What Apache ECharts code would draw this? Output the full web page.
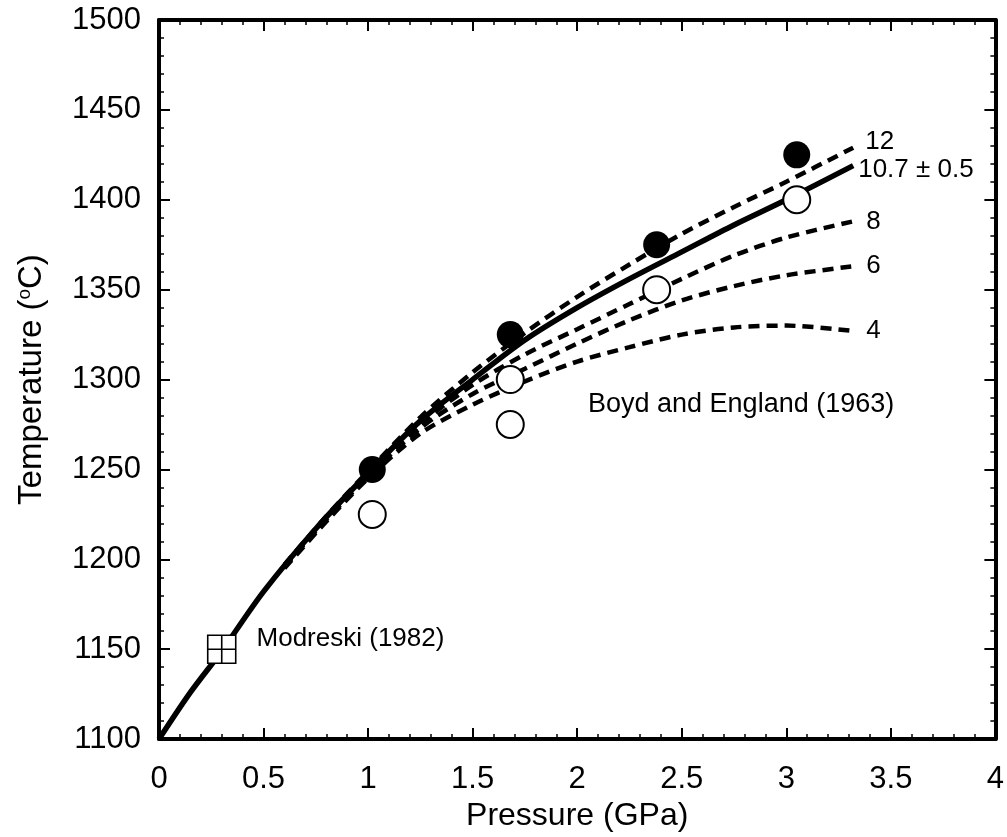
<!DOCTYPE html>
<html>
<head>
<meta charset="utf-8">
<script src="https://cdn.jsdelivr.net/npm/echarts@6/dist/echarts.min.js"></script>
<style>
html,body{margin:0;padding:0;background:#fff;}
#chart{width:1007px;height:837px;}
</style>
</head>
<body>
<div id="chart"></div>
<script>
// ---- data ----
const xTicks = [0, 0.5, 1, 1.5, 2, 2.5, 3, 3.5, 4];
const yTicks = [1100, 1150, 1200, 1250, 1300, 1350, 1400, 1450, 1500];

// solid fitted curve (10.7 ± 0.5)
const solidP = [0, 0.15, 0.3, 0.5, 0.75, 1.0, 1.25, 1.5, 1.75, 2.0, 2.25, 2.5, 2.75, 3.0, 3.32];
const solidT = [1100, 1126, 1149, 1182, 1217, 1248, 1277, 1300, 1322, 1340, 1356, 1371, 1386, 1400, 1419];

// dashed curves share one pressure grid
const dashP = [0.6, 0.8, 1.0, 1.25, 1.5, 1.75, 2.0, 2.25, 2.5, 2.75, 3.0, 3.32];
const dash12 = [1197, 1224, 1249, 1279, 1304, 1326, 1346, 1364, 1381, 1396, 1410, 1429];
const dash8  = [1196, 1223, 1247, 1275, 1297, 1314, 1328, 1342, 1356, 1369, 1379, 1388];
const dash6  = [1196, 1222, 1246, 1273, 1292, 1306, 1320, 1333, 1344, 1352, 1358, 1363];
const dash4  = [1195, 1221, 1245, 1270, 1286, 1299, 1310, 1318, 1325, 1329, 1330, 1327];

// Boyd and England (1963) experiments
const filledP = [1.02, 1.68, 2.38, 3.05];
const filledT = [1250, 1325, 1375, 1425];
const openP = [1.02, 1.68, 1.68, 2.38, 3.05];
const openT = [1225, 1275, 1300, 1350, 1400];

// Modreski (1982)
const modP = [0.3];
const modT = [1150];

const curveLabels = ['12', '10.7 ± 0.5', '8', '6', '4'];
const annotTexts = ['Boyd and England (1963)', 'Modreski (1982)'];
const axisTitles = ['Pressure (GPa)', 'Temperature'];

// ---- build ----
const zip = (a, b) => a.map((v, i) => [v, b[i]]);
const FONT = 'Liberation Sans, Arial, Helvetica, sans-serif';

function dashed(vals, label, distance, offset) {
  return {
    type: 'line', data: zip(dashP, vals), smooth: 0.3, showSymbol: false, symbol: 'none',
    lineStyle: { color: '#000', width: 4.5, type: [11, 7] }, z: 3,
    endLabel: { show: true, formatter: label, color: '#000', fontFamily: FONT, fontSize: 26,
                distance: distance, offset: offset || [0, 0] }
  };
}

const axisCommon = {
  axisLine: { show: true, onZero: false, lineStyle: { color: '#000', width: 4 } },
  axisTick: { show: true, inside: true, length: 11, lineStyle: { color: '#000', width: 2 } },
  minorTick: { show: true, splitNumber: 5, length: 5, lineStyle: { color: '#000', width: 1.5 } },
  splitLine: { show: false },
  minorSplitLine: { show: false }
};

const option = {
  animation: false,
  backgroundColor: '#fff',
  grid: { left: 159, right: 7, top: 20, bottom: 97, containLabel: false },
  xAxis: [
    Object.assign({}, axisCommon, {
      type: 'value', min: xTicks[0], max: xTicks[xTicks.length - 1], interval: 0.5, position: 'bottom',
      name: axisTitles[0], nameLocation: 'middle', nameGap: 60,
      nameTextStyle: { color: '#000', fontFamily: FONT, fontSize: 32 },
      axisLabel: { color: '#000', fontFamily: FONT, fontSize: 31, margin: 25,
                   formatter: v => String(v) }
    }),
    Object.assign({}, axisCommon, {
      type: 'value', min: xTicks[0], max: xTicks[xTicks.length - 1], interval: 0.5, position: 'top',
      axisLabel: { show: false }
    })
  ],
  yAxis: [
    Object.assign({}, axisCommon, {
      type: 'value', min: yTicks[0], max: yTicks[yTicks.length - 1], interval: 50, position: 'left',
      name: '{t|' + axisTitles[1] + ' (}{s|o}{t|C)}', nameLocation: 'middle', nameGap: 110,
      nameTextStyle: { color: '#000', fontFamily: FONT, fontSize: 33,
        rich: { t: { fontFamily: FONT, fontSize: 33, color: '#000' },
                s: { fontFamily: FONT, fontSize: 19, color: '#000', padding: [0, 0, 15, 0] } } },
      axisLabel: { color: '#000', fontFamily: FONT, fontSize: 31, margin: 18,
                   formatter: v => String(v) }
    }),
    Object.assign({}, axisCommon, {
      type: 'value', min: yTicks[0], max: yTicks[yTicks.length - 1], interval: 50, position: 'right',
      axisLabel: { show: false }
    })
  ],
  series: [
    {
      type: 'line', data: zip(solidP, solidT), smooth: 0.3, showSymbol: false, symbol: 'none',
      lineStyle: { color: '#000', width: 5.5 }, z: 4,
      endLabel: { show: true, formatter: curveLabels[1], color: '#000', fontFamily: FONT, fontSize: 26,
                  distance: 5, offset: [0, 4] }
    },
    dashed(dash12, curveLabels[0], 12, [0, -6]),
    dashed(dash8, curveLabels[2], 13),
    dashed(dash6, curveLabels[3], 13),
    dashed(dash4, curveLabels[4], 13),
    {
      type: 'scatter', data: zip(openP, openT), symbol: 'circle', symbolSize: 27, z: 6,
      itemStyle: { color: '#fff', borderColor: '#000', borderWidth: 2, opacity: 1 }
    },
    {
      type: 'scatter', data: zip(filledP, filledT), symbol: 'circle', symbolSize: 27, z: 6,
      itemStyle: { color: '#000', borderColor: '#000', borderWidth: 0, opacity: 1 }
    },
    {
      type: 'scatter', data: zip(modP, modT), z: 7,
      symbol: 'path://M0,0L2,0L2,2L0,2Z M1,0L1,2 M0,1L2,1', symbolSize: 28,
      itemStyle: { color: '#fff', borderColor: '#000', borderWidth: 1.6, opacity: 1 },
      label: { show: true, position: 'right', distance: 20, offset: [0, -10], formatter: annotTexts[1],
               color: '#000', opacity: 1, fontFamily: FONT, fontSize: 26 }
    }
  ],
  graphic: [
    { type: 'text', left: 588, top: 391, z: 10,
      style: { text: annotTexts[0], fill: '#000', font: '27px ' + FONT } }
  ]
};

const chart = echarts.init(document.getElementById('chart'), null, { renderer: 'canvas' });
chart.setOption(option);
</script>
</body>
</html>
